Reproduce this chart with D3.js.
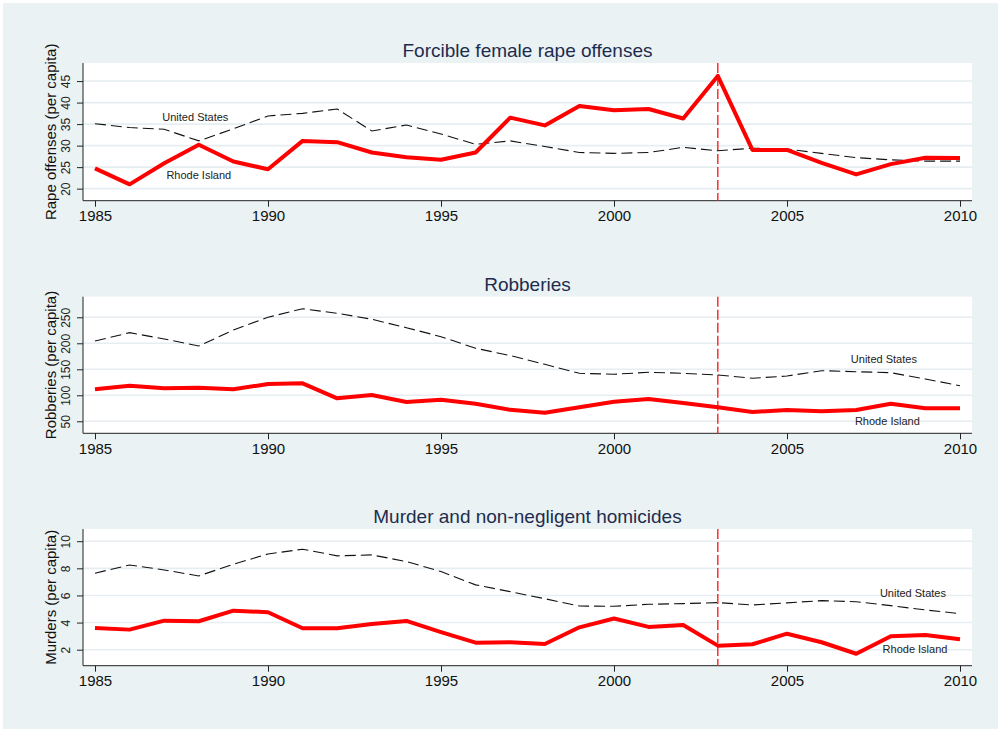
<!doctype html>
<html>
<head>
<meta charset="utf-8">
<title>Crime in Rhode Island vs United States</title>
<script src="https://cdn.jsdelivr.net/npm/d3@7"></script>
<style>
  body { margin: 0; background: #fff; }
  svg text { font-family: "Liberation Sans", Arial, Helvetica, sans-serif; }
</style>
</head>
<body>
<svg id="chart" width="998" height="729"></svg>
<script>
// years shared by every panel
var years = d3.range(1985, 2011);
var policyYear = 2003;

// rape offenses per capita
var rapeRI = [24.7, 21.0, 25.9, 30.2, 26.3, 24.5, 31.1, 30.8, 28.4, 27.3, 26.7, 28.4, 36.5,
              34.7, 39.2, 38.2, 38.5, 36.3, 46.2, 29.0, 29.0, 26.0, 23.3, 25.7, 27.2, 27.1];
var rapeUS = [35.1, 34.2, 33.8, 31.1, 33.9, 36.9, 37.5, 38.5, 33.4, 34.8, 32.7, 30.3, 31.1,
              29.8, 28.4, 28.2, 28.4, 29.6, 28.8, 29.4, 29.2, 28.2, 27.2, 26.7, 26.4, 26.4];

// robberies per capita
var robRI = [111.5, 118.5, 113.5, 114.6, 111.5, 121.7, 123, 94.2, 100.6, 87, 91.5, 83.9, 72,
             66.6, 77, 87.7, 92.9, 85.2, 77, 67.9, 71.7, 69.2, 71.7, 83.9, 75, 75];
var robUS = [204.4, 220.4, 208.3, 194.8, 225.6, 250, 266.5, 257.7, 246.2, 230, 212.7, 190.4, 176.5,
             159.6, 142.3, 140.4, 144.2, 142.3, 139, 132.7, 137.1, 147.3, 145.4, 143.5, 131.3, 118.5];

// murders per capita
var murRI = [3.6, 3.48, 4.14, 4.1, 4.88, 4.76, 3.58, 3.58, 3.9, 4.12, 3.3, 2.52, 2.55,
             2.42, 3.65, 4.3, 3.68, 3.82, 2.3, 2.4, 3.18, 2.55, 1.7, 2.99, 3.08, 2.77];
var murUS = [7.64, 8.25, 7.88, 7.44, 8.3, 9.06, 9.41, 8.92, 8.99, 8.5, 7.76, 6.78, 6.28,
             5.76, 5.22, 5.2, 5.35, 5.4, 5.47, 5.3, 5.45, 5.62, 5.54, 5.25, 4.93, 4.66];

var xTicks = [1985, 1990, 1995, 2000, 2005, 2010];

var panels = [
  { title: "Forcible female rape offenses", ytitle: "Rape offenses (per capita)",
    ri: rapeRI, us: rapeUS, yTicks: [20, 25, 30, 35, 40, 45], domain: [17.2, 49.2],
    top: 63, bottom: 200.7,
    labels: [{ text: "United States", year: 1987.9, v: 36.7 }, { text: "Rhode Island", year: 1988.0, v: 23.2 }] },
  { title: "Robberies", ytitle: "Robberies (per capita)",
    ri: robRI, us: robUS, yTicks: [50, 100, 150, 200, 250], domain: [26.9, 289.6],
    top: 296.7, bottom: 433.3,
    labels: [{ text: "United States", year: 2007.8, v: 169.8 }, { text: "Rhode Island", year: 2007.9, v: 51.2 }] },
  { title: "Murder and non-negligent homicides", ytitle: "Murders (per capita)",
    ri: murRI, us: murUS, yTicks: [2, 4, 6, 8, 10], domain: [0.82, 10.9],
    top: 529, bottom: 665.7,
    labels: [{ text: "United States", year: 2008.64, v: 6.18 }, { text: "Rhode Island", year: 2008.7, v: 2.05 }] }
];

var svg = d3.select("#chart");
var plotLeft = 83, plotRight = 972;

svg.append("rect").attr("x", 3).attr("y", 3).attr("width", 995).attr("height", 726)
  .attr("fill", "#eaf2f3");

var x = d3.scaleLinear().domain([1985, 2010]).range([95, 960]);

panels.forEach(function(p) {
  var y = d3.scaleLinear().domain(p.domain).range([p.bottom, p.top]);
  var g = svg.append("g");

  g.append("rect").attr("x", plotLeft).attr("y", p.top)
    .attr("width", plotRight - plotLeft).attr("height", p.bottom - p.top).attr("fill", "#fff");

  // grid
  g.selectAll(".grid").data(p.yTicks).enter().append("line")
    .attr("x1", plotLeft).attr("x2", plotRight)
    .attr("y1", function(d) { return y(d); }).attr("y2", function(d) { return y(d); })
    .attr("stroke", "#e6eef1").attr("stroke-width", 1.6);

  // title
  g.append("text").attr("x", (plotLeft + plotRight) / 2).attr("y", p.top - 6)
    .attr("text-anchor", "middle").attr("font-size", 19).attr("fill", "#1e2c4e")
    .text(p.title);

  // y axis
  var yAxis = d3.axisLeft(y).tickValues(p.yTicks).tickSize(6).tickPadding(4);
  var ya = g.append("g").attr("transform", "translate(" + plotLeft + ",0)").call(yAxis);
  ya.select(".domain").attr("d", "M0," + p.top + "V" + p.bottom).attr("stroke", "#222");
  ya.selectAll(".tick line").attr("stroke", "#222");
  ya.selectAll(".tick text")
    .attr("font-size", 12).attr("fill", "#222")
    .attr("x", null).attr("dy", null).attr("text-anchor", "middle")
    .attr("transform", "translate(-13,0) rotate(-90)");

  g.append("text")
    .attr("transform", "translate(56," + ((p.top + p.bottom) / 2) + ") rotate(-90)")
    .attr("text-anchor", "middle").attr("font-size", 15).attr("fill", "#111")
    .text(p.ytitle);

  // x axis
  var xAxis = d3.axisBottom(x).tickValues(xTicks).tickFormat(d3.format("d")).tickSize(6).tickPadding(4);
  var xa = g.append("g").attr("transform", "translate(0," + p.bottom + ")").call(xAxis);
  xa.select(".domain").attr("d", "M" + plotLeft + ",0H" + plotRight).attr("stroke", "#222");
  xa.selectAll(".tick line").attr("stroke", "#222");
  xa.selectAll(".tick text").attr("font-size", 15).attr("fill", "#111");

  // policy year line
  g.append("line").attr("x1", x(policyYear)).attr("x2", x(policyYear))
    .attr("y1", p.top).attr("y2", p.bottom)
    .attr("stroke", "#ff2020").attr("stroke-width", 1.4).attr("stroke-dasharray", "10,3");

  var line = d3.line().x(function(d, i) { return x(years[i]); }).y(function(d) { return y(d); });

  g.append("path").datum(p.us).attr("d", line)
    .attr("fill", "none").attr("stroke", "#111").attr("stroke-width", 1.1)
    .attr("stroke-dasharray", "11,5");

  g.append("path").datum(p.ri).attr("d", line)
    .attr("fill", "none").attr("stroke", "#ff0000").attr("stroke-width", 4)
    .attr("stroke-linejoin", "round");

  g.selectAll(".lab").data(p.labels).enter().append("text")
    .attr("x", function(d) { return x(d.year); }).attr("y", function(d) { return y(d.v); })
    .attr("dy", "0.35em").attr("text-anchor", "middle")
    .attr("font-size", 11).attr("fill", "#222")
    .text(function(d) { return d.text; });
});
</script>
</body>
</html>
